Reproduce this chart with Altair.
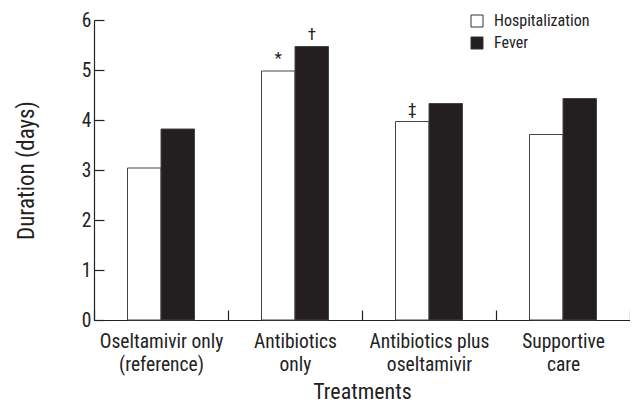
import altair as alt
import pandas as pd

treatments = ["Oseltamivir only\n(reference)", "Antibiotics\nonly",
              "Antibiotics plus\noseltamivir", "Supportive\ncare"]
series = ["Hospitalization", "Fever"]
hospitalization = [3.04, 4.98, 3.97, 3.71]
fever = [3.82, 5.47, 4.33, 4.43]
marks_hosp = ["", "*", "‡", ""]
marks_fever = ["", "†", "", ""]
y_ticks = [0, 1, 2, 3, 4, 5, 6]

rows = []
for i, t in enumerate(treatments):
    rows.append({"treatment": t, "series": "Hospitalization", "value": hospitalization[i], "mark": marks_hosp[i]})
    rows.append({"treatment": t, "series": "Fever", "value": fever[i], "mark": marks_fever[i]})
df = pd.DataFrame(rows)
ann = df[df["mark"] != ""]

FONT = "Liberation Sans Narrow, Roboto Condensed, Roboto, Liberation Sans, Arial"

x_enc = alt.X("treatment:N", sort=treatments, title="Treatments",
              scale=alt.Scale(paddingInner=0, paddingOuter=0),
              axis=alt.Axis(labelExpr="split(datum.label, '\\n')", labelAngle=0,
                            tickBand="extent", tickSize={"expr": "-10"},
                            labelPadding=22, labelLineHeight=23, titlePadding=8,
                            titleFontSize=22))
xo_enc = alt.XOffset("series:N", sort=series,
                     scale=alt.Scale(paddingInner=0, paddingOuter={"expr": "1.185"}))
y_enc = alt.Y("value:Q", title="Duration (days)",
              scale=alt.Scale(domain=[0, 6], nice=False),
              axis=alt.Axis(values=y_ticks, tickSize={"expr": "-10"},
                            labelPadding=13, titlePadding=43, grid=False,
                            titleFontSize=23))

bars = alt.Chart(df).mark_bar(strokeWidth=1, stroke="#444444").encode(
    x=x_enc, xOffset=xo_enc, y=y_enc,
    fill=alt.Fill("series:N", sort=series, title=None,
                  scale=alt.Scale(domain=series, range=["#ffffff", "#231f20"]),
                  legend=alt.Legend(orient="none", legendX=375, legendY=-7,
                                    symbolType="square", symbolSize=144,
                                    symbolStrokeColor="#333333", symbolStrokeWidth=1,
                                    labelFontSize=16, labelFont=FONT,
                                    rowPadding=6, labelOffset=9)),
)

text = alt.Chart(ann).mark_text(baseline="bottom", dy=-3, fontSize=17, font=FONT,
                                color="#222222").encode(
    x=alt.X("treatment:N", sort=treatments),
    xOffset=alt.XOffset("series:N", sort=series),
    y="value:Q",
    text="mark:N",
)

chart = (bars + text).properties(
    width=536, height=300,
    autosize=alt.AutoSizeParams(type="none"),
    padding={"left": 86, "top": 12, "right": 0, "bottom": 84},
).configure_view(stroke=None).configure_axis(
    domainColor="#222222", tickColor="#222222", labelColor="#222222",
    titleColor="#222222", labelFont=FONT, titleFont=FONT,
    labelFontSize=19.5, titleFontWeight="normal",
    domainWidth=1.2, tickWidth=1.2,
).configure_legend(labelColor="#222222")

chart.save("out.html", embed_options={"renderer": "svg", "actions": False})
